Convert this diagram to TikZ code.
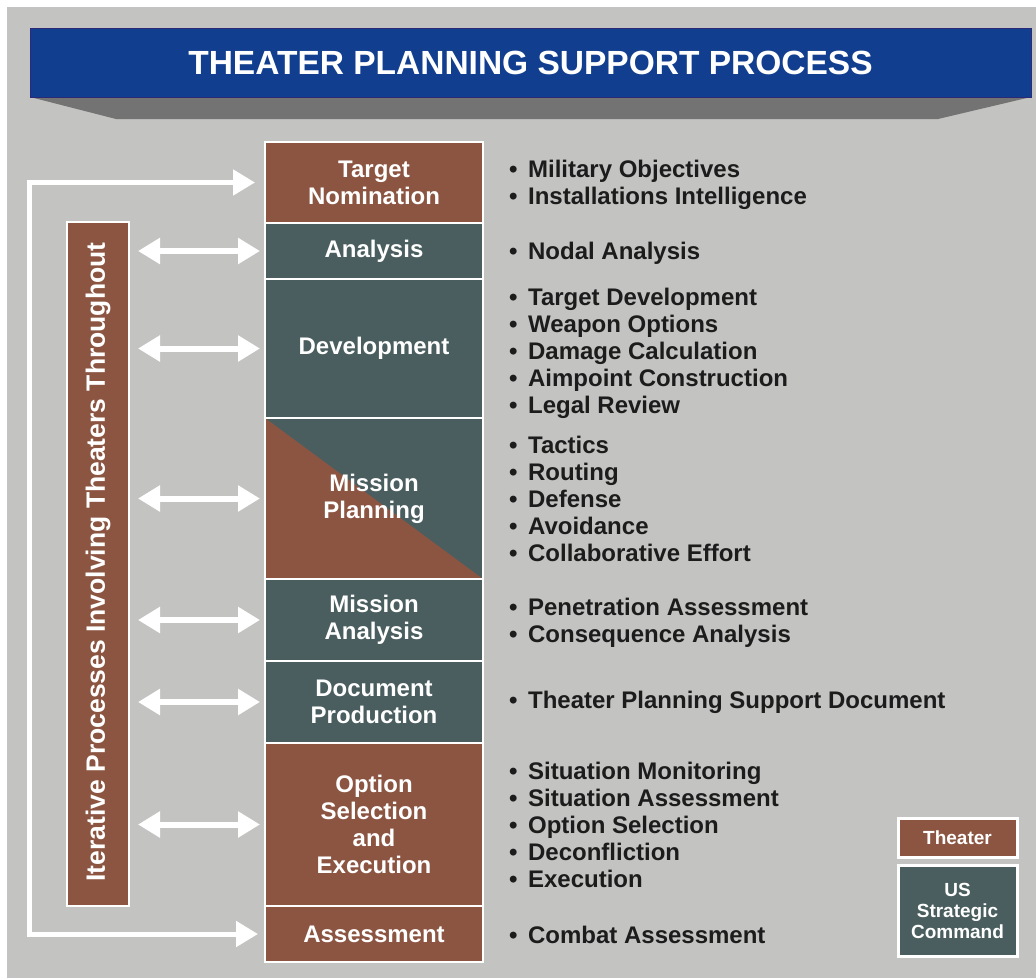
\documentclass[tikz,border=0pt]{standalone}
\usepackage{fontspec}
\setmainfont{Liberation Sans}
\usetikzlibrary{arrows.meta,positioning}
\definecolor{bgray}{HTML}{C3C3C1}
\definecolor{tblue}{HTML}{113E8E}
\definecolor{tblueline}{HTML}{2A2A78}
\definecolor{tshadow}{HTML}{737373}
\definecolor{thbrown}{HTML}{8C5542}
\definecolor{stteal}{HTML}{4A5E5F}
\definecolor{txt}{HTML}{1C1C1C}
\newcommand{\bl}{•\hspace{10.5pt}}
\tikzset{
  procbox/.style={draw=white, line width=2.5pt, minimum width=218pt, text=white,
    font=\bfseries\fontsize{24}{27}\selectfont, align=center, inner sep=0pt, outer sep=0pt},
  thr/.style={procbox, fill=thbrown},
  usc/.style={procbox, fill=stteal},
  blist/.style={anchor=west, align=left, inner sep=0pt, text=txt,
    font=\bfseries\fontsize{24}{27}\selectfont},
  dbl/.style={draw=white, line width=6pt,
    {Triangle[length=22pt,width=25pt]}-{Triangle[length=22pt,width=25pt]},
    shorten <=9pt, shorten >=5pt},
  looparrow/.style={draw=white, line width=5pt, line join=miter,
    {Triangle[length=22pt,width=25pt]}-{Triangle[length=22pt,width=25pt]}},
  legendbox/.style={draw=white, line width=3pt, minimum width=119pt, text=white,
    font=\bfseries\fontsize{19}{21}\selectfont, align=center, inner sep=0pt, outer sep=0pt},
}
\begin{document}
\begin{tikzpicture}[x=1pt,y=-1pt]
\useasboundingbox (0,0) rectangle (1036,978);
\fill[white] (0,0) rectangle (1036,978);
\fill[bgray] (7,7) rectangle (1036,978);
% title
\fill[tshadow] (30,97) -- (1031,97) -- (938,119) -- (116,119) -- cycle;
\node[draw=tblueline, line width=1pt, fill=tblue, minimum width=1001pt, minimum height=69pt,
  inner sep=0pt, outer sep=0pt, text=white, font=\bfseries\fontsize{33.5}{36}\selectfont]
  (title) at (530.5,62.5) {THEATER PLANNING SUPPORT PROCESS};
% process boxes
\node[thr, minimum height=81pt] (tn) at (374,182.5) {Target\\Nomination};
\node[usc, minimum height=56pt] (an) at (374,251) {Analysis};
\node[usc, minimum height=139pt] (dv) at (374,348.5) {Development};
\node[usc, minimum height=161pt,
  path picture={\fill[thbrown] (path picture bounding box.north west) -- (path picture bounding box.south west) -- (path picture bounding box.south east) -- cycle;}]
  (mp) at (374,498.5) {Mission\\Planning};
\node[usc, minimum height=82pt] (ma) at (374,620) {Mission\\Analysis};
\node[usc, minimum height=82pt] (dp) at (374,702) {Document\\Production};
\node[thr, minimum height=163pt] (os) at (374,824.5) {Option\\Selection\\and\\Execution};
\node[thr, minimum height=56pt] (as) at (374,934) {Assessment};
% iterative box
\node[draw=white, line width=2.5pt, fill=thbrown, minimum width=62pt, minimum height=684pt,
  inner sep=0pt, outer sep=0pt] (it) at (98,564) {};
\node[rotate=90, text=white, inner sep=0pt, font=\bfseries\fontsize{26.5}{30}\selectfont]
  (itl) at ([yshift=2pt]it.center) {Iterative Processes Involving Theaters Throughout};
% double arrows
\foreach \b in {an,dv,mp,ma,dp,os}{
  \draw[dbl] (it.east |- \b.west) -- (\b.west);
}
% loop arrow
\coordinate (ltop) at (29,182.5);
\coordinate (lbot) at (29,934);
\draw[looparrow, shorten <=10pt, shorten >=7pt] (tn.west) -- (ltop) -- (lbot) -- (as.west);
% bullet lists
\node[blist] (btn) at ([xshift=26pt,yshift=-2pt]tn.east) {\bl Military Objectives\\\bl Installations Intelligence};
\node[blist] (ban) at ([xshift=26pt,yshift=-2pt]an.east) {\bl Nodal Analysis};
\node[blist] (bdv) at ([xshift=26pt,yshift=-5pt]dv.east) {\bl Target Development\\\bl Weapon Options\\\bl Damage Calculation\\\bl Aimpoint Construction\\\bl Legal Review};
\node[blist] (bmp) at ([xshift=26pt]mp.east) {\bl Tactics\\\bl Routing\\\bl Defense\\\bl Avoidance\\\bl Collaborative Effort};
\node[blist] (bma) at ([xshift=26pt,yshift=-2.5pt]ma.east) {\bl Penetration Assessment\\\bl Consequence Analysis};
\node[blist] (bdp) at ([xshift=26pt]dp.east) {\bl Theater Planning Support Document};
\node[blist] (bos) at ([xshift=26pt]os.east) {\bl Situation Monitoring\\\bl Situation Assessment\\\bl Option Selection\\\bl Deconfliction\\\bl Execution};
\node[blist] (bas) at ([xshift=26pt,yshift=-1pt]as.east) {\bl Combat Assessment};
% legend
\node[legendbox, fill=thbrown, minimum height=39pt] (lgt) at (957.5,837.5) {Theater};
\node[legendbox, fill=stteal, minimum height=91pt] (lgu) at (957.5,910.5) {US\\Strategic\\Command};
\end{tikzpicture}
\end{document}
